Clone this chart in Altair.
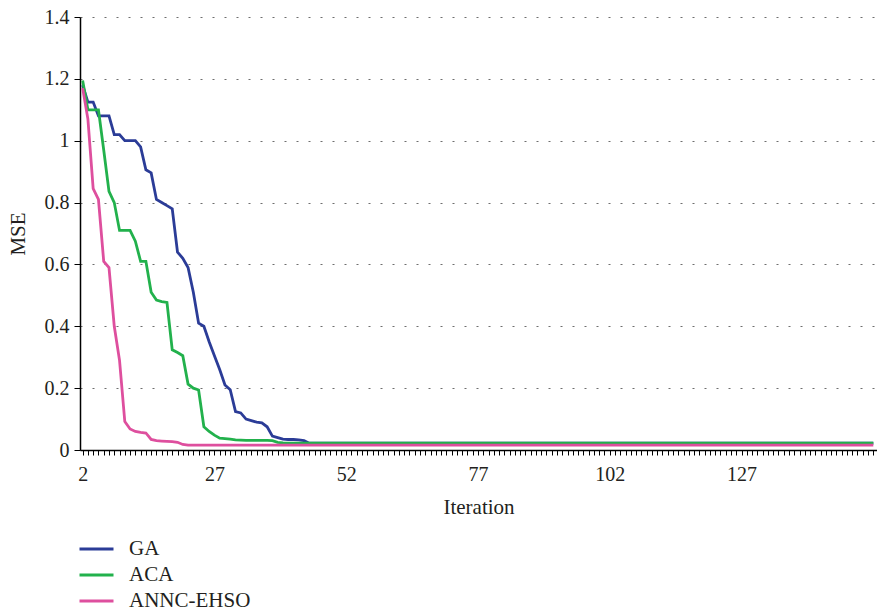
import altair as alt
import pandas as pd

# Iterations at which values were read (flat after 46 up to the last iteration)
iterations = [2, 3, 4, 5, 6, 7, 8, 9, 10, 11, 12, 13, 14, 15, 16, 17, 18, 19, 20, 21,
              22, 23, 24, 25, 26, 27, 28, 29, 30, 31, 32, 33, 34, 35, 36, 37, 38, 39, 40, 41,
              42, 43, 44, 45, 46, 152]

ga = [1.18, 1.125, 1.125, 1.08, 1.08, 1.08, 1.02, 1.02, 1.0, 1.0,
      1.0, 0.98, 0.906, 0.896, 0.81, 0.80, 0.79, 0.78, 0.64, 0.62,
      0.59, 0.51, 0.41, 0.40, 0.35, 0.305, 0.26, 0.21, 0.195, 0.124,
      0.12, 0.10, 0.095, 0.09, 0.088, 0.075, 0.045, 0.04, 0.035, 0.034,
      0.034, 0.033, 0.03, 0.022, 0.022, 0.022]

aca = [1.195, 1.10, 1.10, 1.10, 0.97, 0.836, 0.80, 0.71, 0.71, 0.71,
       0.675, 0.61, 0.61, 0.51, 0.485, 0.48, 0.477, 0.324, 0.315, 0.305,
       0.213, 0.20, 0.194, 0.075, 0.06, 0.048, 0.038, 0.037, 0.035, 0.033,
       0.032, 0.031, 0.031, 0.031, 0.031, 0.031, 0.03, 0.025, 0.023, 0.022,
       0.022, 0.022, 0.022, 0.022, 0.022, 0.022]

annc = [1.17, 1.07, 0.845, 0.81, 0.61, 0.59, 0.40, 0.29, 0.092, 0.068,
        0.06, 0.057, 0.055, 0.034, 0.03, 0.029, 0.028, 0.027, 0.025, 0.018,
        0.016, 0.016, 0.016, 0.016, 0.016, 0.016, 0.016, 0.016, 0.016, 0.016,
        0.016, 0.016, 0.016, 0.016, 0.016, 0.016, 0.016, 0.016, 0.016, 0.016,
        0.016, 0.016, 0.016, 0.016, 0.016, 0.016]

series_names = ["GA", "ACA", "ANNC-EHSO"]
series_colors = ["#2B3C97", "#22B14C", "#DE4F9E"]
y_ticks = [0, 0.2, 0.4, 0.6, 0.8, 1.0, 1.2, 1.4]
x_minor_ticks = list(range(2, 153))
x_label_values = [2, 27, 52, 77, 102, 127]

rows = []
for name, vals in zip(series_names, [ga, aca, annc]):
    for it, v in zip(iterations, vals):
        rows.append({"Iteration": it, "MSE": v, "Series": name})
df = pd.DataFrame(rows)

FONT = "Liberation Serif"
TEXT = "#231F20"

label_test = "indexof(" + str(x_label_values) + ", datum.value) >= 0 ? datum.label : ''"

x_enc = alt.X(
    "Iteration:Q",
    scale=alt.Scale(domain=[1.5, 152.7], nice=False, zero=False),
    axis=alt.Axis(
        title="Iteration",
        values=x_minor_ticks,
        labelExpr=label_test,
        labelOverlap=False,
        labelFlush=False,
        labelBound=False,
        grid=False,
        domainColor="#000000",
        domainWidth=1.5,
        tickColor="#000000",
        tickWidth=1,
        tickSize=5,
        labelPadding=9,
        labelFontSize=20,
        labelFont=FONT,
        labelColor=TEXT,
        titleFont=FONT,
        titleFontSize=21,
        titleFontWeight="normal",
        titleColor=TEXT,
        titlePadding=12,
    ),
)

y_enc = alt.Y(
    "MSE:Q",
    scale=alt.Scale(domain=[0, 1.4], nice=False),
    axis=alt.Axis(
        title="MSE",
        values=y_ticks,
        format=".1~f",
        grid=True,
        gridColor="#6E6E6E",
        gridDash=[2, 10],
        gridWidth=1.2,
        domainColor="#000000",
        domainWidth=1.5,
        tickColor="#000000",
        tickSize=6,
        labelPadding=5,
        labelFontSize=20,
        labelFont=FONT,
        labelColor=TEXT,
        titleFont=FONT,
        titleFontSize=21,
        titleFontWeight="normal",
        titleColor=TEXT,
        titlePadding=16,
    ),
)

color_enc = alt.Color(
    "Series:N",
    scale=alt.Scale(domain=series_names, range=series_colors),
    legend=alt.Legend(
        title=None,
        orient="none",
        legendX=-2,
        legendY=519,
        direction="vertical",
        symbolType="stroke",
        symbolSize=1156,
        symbolStrokeWidth=3,
        labelFont=FONT,
        labelFontSize=21,
        labelColor=TEXT,
        labelOffset=14,
        rowPadding=0,
        clipHeight=26,
    ),
)

layers = []
for name in series_names:
    layers.append(
        alt.Chart(df)
        .transform_filter(alt.datum.Series == name)
        .mark_line(strokeWidth=2.8)
        .encode(x=x_enc, y=y_enc, color=color_enc)
    )

chart = (
    alt.layer(*layers)
    .properties(
        width=797,
        height=433,
        padding={"left": 80, "top": 17, "right": 0, "bottom": 163},
        autosize=alt.AutoSizeParams(type="none"),
        background="#FFFFFF",
    )
    .configure_view(stroke=None)
)

chart.save("out.html", embed_options={"renderer": "svg", "actions": False})
